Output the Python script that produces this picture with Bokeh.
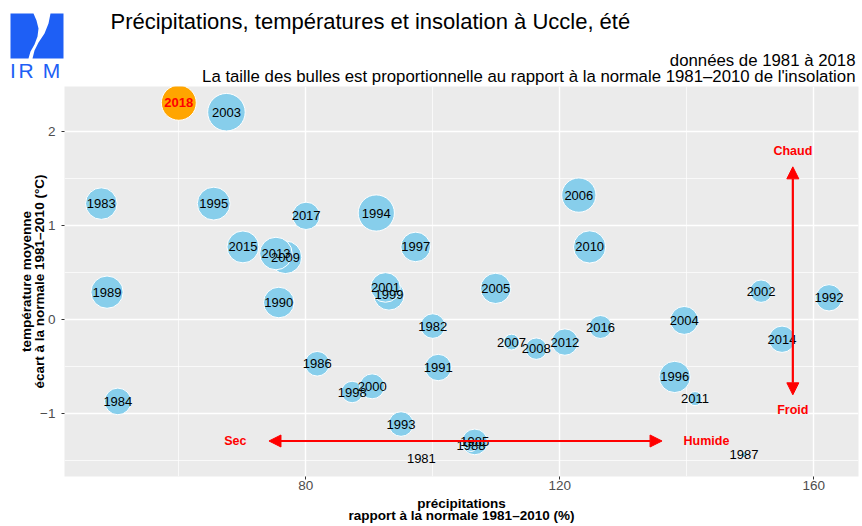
import numpy as np
from bokeh.plotting import figure
from bokeh.layouts import column
from bokeh.models import (ColumnDataSource, Range1d, FixedTicker, Label, Arrow, NormalHead)
from bokeh.core.properties import value
from bokeh.embed import file_html
from bokeh.resources import INLINE

# ---------------- data ----------------
years = list(range(1981, 2019))
# precipitation, % of 1981-2010 normal
precip = [98.2, 100.0, 47.8, 50.4, 106.6, 81.8, 149.0, 106.0, 48.7, 75.75,
          100.85, 162.4, 95.0, 91.1, 65.5, 138.1, 97.3, 87.3, 93.1, 90.45,
          92.55, 151.7, 67.5, 139.6, 109.9, 123.0, 112.4, 116.3, 76.8, 124.7,
          141.3, 120.8, 75.3, 155.0, 70.1, 126.4, 80.05, 60.0]
# mean temperature anomaly vs 1981-2010 (°C)
temp = [-1.48, -0.07, 1.23, -0.87, -1.30, -0.47, -1.435, -1.34, 0.29, 0.18,
        -0.51, 0.23, -1.11, 1.13, 1.23, -0.61, 0.77, -0.77, 0.26, -0.71,
        0.34, 0.30, 2.20, -0.01, 0.33, 1.32, -0.24, -0.31, 0.66, 0.77,
        -0.84, -0.24, 0.70, -0.21, 0.77, -0.08, 1.10, 2.30]
# sunshine, % of normal (bubble size)
insol = [80.0, 102.4, 118.2, 106.5, 104.4, 102.4, 80.7, 84.0, 120.0, 115.7,
         105.9, 105.9, 102.4, 131.1, 121.6, 117.4, 113.3, 96.5, 115.0, 103.0,
         113.3, 98.2, 135.0, 109.4, 115.0, 125.4, 88.3, 96.5, 120.8, 120.0,
         86.4, 105.9, 120.8, 105.9, 119.0, 99.3, 108.0, 127.3]
highlight_year = 2018

x_ticks = [80, 120, 160]
x_minor = [60, 100, 140]
y_ticks = [-1, 0, 1, 2]
y_minor = [-1.5, -0.5, 0.5, 1.5]

# annotation arrows (data coords)
h_arrow = dict(y=-1.29, x0=74.2, x1=136.1)
v_arrow = dict(x=156.7, y0=-0.80, y1=1.62)
red_labels = [("Chaud", 156.7, 1.785), ("Froid", 156.7, -0.956),
              ("Sec", 68.9, -1.29), ("Humide", 143.1, -1.29)]

title = "Précipitations, températures et insolation à Uccle, été"
sub1 = "données de 1981 à 2018"
sub2 = "La taille des bulles est proportionnelle au rapport à la normale 1981–2010 de l'insolation"
xlab1 = "précipitations"
xlab2 = "rapport à la normale 1981–2010 (%)"
ylab1 = "température moyenne"
ylab2 = "écart à la normale 1981–2010 (°C)"

FONT = "Liberation Sans"
W = 862
HEADER_H = 86

# ---------------- header (logo + titles) ----------------
h = figure(width=W, height=HEADER_H, x_range=Range1d(0, W), y_range=Range1d(HEADER_H, 0),
           output_backend="svg", toolbar_location=None, x_axis_type=None, y_axis_type=None,
           min_border_left=0, min_border_right=0, min_border_top=0, min_border_bottom=0)
h.title.visible = False
h.outline_line_color = None
h.grid.visible = False
h.background_fill_color = "white"
h.border_fill_color = "white"

BLUE = "#1E5FF5"
logo_left = ([10, 33, 36, 38, 37, 34, 30, 28, 10], [13, 13, 20, 28, 36, 44, 51, 58, 58])
logo_right = ([50, 63, 63, 32, 34, 38, 44, 48], [13, 13, 58, 58, 50, 42, 33, 23])
h.patches([logo_left[0], logo_right[0]], [logo_left[1], logo_right[1]],
          fill_color=BLUE, line_color=None)
h.text([12.5, 25.5, 51], [70, 70, 70], text=["I", "R", "M"], text_align="center",
       text_baseline="alphabetic", text_font=value(FONT), text_font_size="21px",
       text_color=BLUE)
h.add_layout(Label(x=110, y=21, text=title, text_font=FONT, text_font_size="22px",
                   text_color="black", text_align="left", text_baseline="alphabetic"))
h.add_layout(Label(x=855, y=60, text=sub1, text_font=FONT, text_font_size="16.8px",
                   text_color="black", text_align="right", text_baseline="alphabetic"))
h.add_layout(Label(x=855, y=76, text=sub2, text_font=FONT, text_font_size="16.8px",
                   text_color="black", text_align="right", text_baseline="alphabetic"))

# ---------------- main plot ----------------
p = figure(width=W, height=526 - HEADER_H, x_range=Range1d(42.0, 167.04),
           y_range=Range1d(-1.667, 2.473), output_backend="svg", toolbar_location=None,
           min_border_left=64, min_border_right=4, min_border_top=0, min_border_bottom=50)
for fig in (h, p):
    try:
        fig.frame_align = False
    except Exception:
        pass
p.title.visible = False
p.outline_line_color = None
p.background_fill_color = "#EBEBEB"
p.border_fill_color = "white"

p.xaxis.ticker = FixedTicker(ticks=x_ticks, minor_ticks=x_minor)
p.yaxis.ticker = FixedTicker(ticks=y_ticks, minor_ticks=y_minor)
p.yaxis.major_label_overrides = {t: (str(t) if t >= 0 else "−" + str(-t)) for t in y_ticks}
for ax in (p.xaxis, p.yaxis):
    ax.axis_line_color = None
    ax.major_tick_line_color = "#333333"
    ax.major_tick_in = 0
    ax.major_tick_out = 3
    ax.minor_tick_line_color = None
    ax.major_label_text_font = FONT
    ax.major_label_text_font_size = "13.5px"
    ax.major_label_text_color = "#4D4D4D"
    ax.axis_label_text_font = FONT
    ax.axis_label_text_font_size = "13.5px"
    ax.axis_label_text_font_style = "bold"
    ax.axis_label_text_color = "black"
p.xaxis.major_label_standoff = 0
p.xaxis.axis_label_standoff = 3
p.xaxis.axis_label_text_line_height = 0.85
p.yaxis.major_label_standoff = 5
p.yaxis.axis_label_standoff = -10
p.yaxis.axis_label_text_line_height = 0.9
p.xaxis.axis_label = xlab1 + "\n" + xlab2
p.yaxis.axis_label = ylab1 + "\n" + ylab2

p.grid.grid_line_color = "white"
p.grid.grid_line_width = 1.4
p.grid.minor_grid_line_color = "white"
p.grid.minor_grid_line_width = 0.7

# bubbles
ins = np.array(insol)
dmin, dmax = 2.0, 37.5
diam = dmin + (dmax - dmin) * np.sqrt((ins - ins.min()) / (ins.max() - ins.min()))
colors = ["orange" if y == highlight_year else "skyblue" for y in years]
src = ColumnDataSource(dict(x=precip, y=temp, size=diam, color=colors))
p.scatter("x", "y", size="size", source=src, fill_color="color", line_color="white",
          line_width=1)

idx_n = [i for i, y in enumerate(years) if y != highlight_year]
idx_h = [i for i, y in enumerate(years) if y == highlight_year]
src_n = ColumnDataSource(dict(x=[precip[i] for i in idx_n], y=[temp[i] for i in idx_n],
                              label=[str(years[i]) for i in idx_n]))
src_h = ColumnDataSource(dict(x=[precip[i] for i in idx_h], y=[temp[i] for i in idx_h],
                              label=[str(years[i]) for i in idx_h]))
p.text("x", "y", text="label", source=src_n, text_align="center", text_baseline="middle",
       text_font=value(FONT), text_font_size="13px", text_color="black")
p.text("x", "y", text="label", source=src_h, text_align="center", text_baseline="middle",
       text_font=value(FONT), text_font_size="13px", text_color="red", text_font_style="bold")


def head():
    return NormalHead(size=12, fill_color="red", line_color="red", line_width=1)


p.add_layout(Arrow(start=head(), end=head(), x_start=h_arrow["x0"], y_start=h_arrow["y"],
                   x_end=h_arrow["x1"], y_end=h_arrow["y"], line_color="red", line_width=2.2))
p.add_layout(Arrow(start=head(), end=head(), x_start=v_arrow["x"], y_start=v_arrow["y0"],
                   x_end=v_arrow["x"], y_end=v_arrow["y1"], line_color="red", line_width=2.2))
for t, x, y in red_labels:
    p.add_layout(Label(x=x, y=y, text=t, text_align="center", text_baseline="middle",
                       text_font=FONT, text_font_size="12.5px", text_font_style="bold",
                       text_color="red"))

layout = column(h, p, spacing=0)
open("out.html", "w").write(file_html(layout, INLINE))
